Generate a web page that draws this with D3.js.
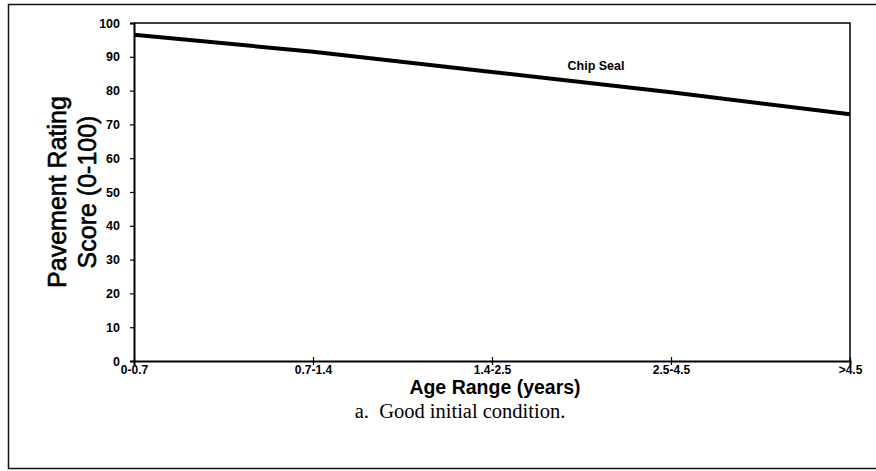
<!DOCTYPE html>
<html>
<head>
<meta charset="utf-8">
<script src="https://cdn.jsdelivr.net/npm/d3@7"></script>
<style>
  html, body { margin: 0; padding: 0; background: #fff; }
  svg { display: block; }
</style>
</head>
<body>
<svg id="chart" width="876" height="471"></svg>
<script>
// Age ranges (x categories) and chip seal rating per range
const ageRanges = ["0-0.7", "0.7-1.4", "1.4-2.5", "2.5-4.5", ">4.5"];
const chipSeal = [96.5, 91.5, 85.5, 79.5, 73];
const yTicks = [0, 10, 20, 30, 40, 50, 60, 70, 80, 90, 100];

const svg = d3.select("#chart");
const W = 876, H = 471;
const plot = { left: 134, right: 850, top: 23, bottom: 361 };
const sans = "Liberation Sans, Arial, sans-serif";

// outer frame around the figure
svg.append("rect")
  .attr("x", 8.5).attr("y", 4.5)
  .attr("width", W - 8.5 + 2).attr("height", 464)
  .attr("fill", "none").attr("stroke", "#111").attr("stroke-width", 1.5);

const x = d3.scalePoint().domain(ageRanges).range([plot.left, plot.right]);
const y = d3.scaleLinear().domain([0, 100]).range([plot.bottom, plot.top]);

// plot area box (top and right edges)
svg.append("path")
  .attr("d", `M${plot.left},${plot.top}H${plot.right}V${plot.bottom}`)
  .attr("fill", "none").attr("stroke", "#000").attr("stroke-width", 1.5);

// y axis
const yAxis = svg.append("g")
  .attr("transform", `translate(${plot.left},0)`)
  .call(d3.axisLeft(y).tickValues(yTicks).tickSize(4).tickPadding(10));
yAxis.select(".domain").attr("stroke", "#000").attr("stroke-width", 2);
yAxis.selectAll(".tick line").attr("stroke", "#000").attr("stroke-width", 1.2)
  .attr("x2", -4).attr("x1", 1);
yAxis.selectAll(".tick text")
  .attr("font-family", sans)
  .attr("font-weight", "bold").attr("font-size", 12.5).attr("fill", "#000");

// x axis
const xAxis = svg.append("g")
  .attr("transform", `translate(0,${plot.bottom})`)
  .call(d3.axisBottom(x).tickSize(4).tickPadding(0));
xAxis.select(".domain").attr("stroke", "#000").attr("stroke-width", 2);
xAxis.selectAll(".tick line").attr("stroke", "#000").attr("stroke-width", 1.2)
  .attr("y1", -4).attr("y2", 4);
xAxis.selectAll(".tick text")
  .attr("font-family", sans)
  .attr("font-weight", "bold").attr("font-size", 12).attr("fill", "#000");

// chip seal rating line
const line = d3.line()
  .x((d, i) => x(ageRanges[i]))
  .y(d => y(d));
svg.append("path")
  .datum(chipSeal)
  .attr("d", line)
  .attr("fill", "none").attr("stroke", "#000").attr("stroke-width", 4)
  .attr("stroke-linejoin", "round");

// series label
svg.append("text")
  .attr("x", x("2.5-4.5") - 75).attr("y", y(86))
  .attr("text-anchor", "middle")
  .attr("font-family", sans)
  .attr("font-weight", "bold").attr("font-size", 12.5)
  .text("Chip Seal");

// axis titles
const midY = (plot.top + plot.bottom) / 2;
[["Pavement Rating", 66], ["Score (0-100)", 96]].forEach(([label, tx]) => {
  svg.append("text")
    .attr("transform", `translate(${tx},${midY}) rotate(-90)`)
    .attr("text-anchor", "middle")
    .attr("font-family", sans)
    .attr("font-size", 25)
    .attr("stroke", "#000").attr("stroke-width", 0.6)
    .text(label);
});

svg.append("text")
  .attr("x", 495).attr("y", 394)
  .attr("text-anchor", "middle")
  .attr("font-family", sans)
  .attr("font-weight", "bold").attr("font-size", 19.5)
  .text("Age Range (years)");

// caption
svg.append("text")
  .attr("x", 460).attr("y", 418)
  .attr("text-anchor", "middle")
  .attr("font-family", "Liberation Serif, Times New Roman, serif")
  .attr("font-size", 20.5)
  .attr("xml:space", "preserve")
  .text("a.  Good initial condition.");
</script>
</body>
</html>
